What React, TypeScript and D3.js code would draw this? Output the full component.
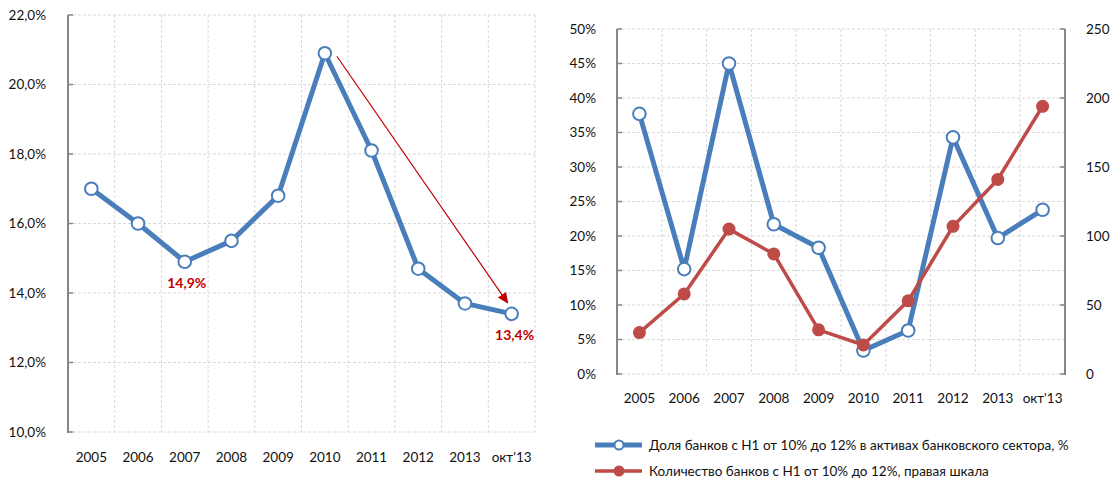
import React from "react";
import * as d3 from "d3";

const categories = ["2005", "2006", "2007", "2008", "2009", "2010", "2011", "2012", "2013", "окт'13"];
const leftValues = [17.0, 16.0, 14.9, 15.5, 16.8, 20.9, 18.1, 14.7, 13.7, 13.4];
const leftTicks = [10, 12, 14, 16, 18, 20, 22];
const shareValues = [37.7, 15.2, 45.0, 21.7, 18.3, 3.4, 6.3, 34.3, 19.7, 23.8];
const countValues = [30, 58, 105, 87, 32, 21, 53, 107, 141, 194];
const pctTicks = [0, 5, 10, 15, 20, 25, 30, 35, 40, 45, 50];
const countTicks = [0, 50, 100, 150, 200, 250];
const legendLabels = [
  "Доля банков с Н1 от 10% до 12% в активах банковского сектора, %",
  "Количество банков с Н1 от 10% до 12%, правая шкала",
];
const annotations = [
  { idx: 2, text: "14,9%" },
  { idx: 9, text: "13,4%" },
];

const BLUE = "#4A7EBB";
const RED = "#BE4B48";
const DARKRED = "#C00000";
const AXIS = "#868686";
const GRID = "#D9D9D9";
const FONT = "Lato, 'Open Sans', sans-serif";
const TXT = "#111";
const FS = 13.5;

function LeftChart() {
  const x0 = 68, x1 = 535, yTop = 15, yBot = 432;
  const x = d3.scaleBand<string>().domain(categories).range([x0, x1]);
  const y = d3.scaleLinear().domain([10, 22]).range([yBot, yTop]);
  const cx = (c: string) => (x(c) as number) + x.bandwidth() / 2;
  const line = d3
    .line<number>()
    .x((_, i) => cx(categories[i]))
    .y((d) => y(d));
  const arrowStart = { x: cx(categories[5]) + 12, y: y(20.9) + 3 };
  const arrowEnd = { x: cx(categories[9]) - 4, y: y(13.4) - 11 };
  return (
    <g>
      <defs>
        <marker id="arrowhead" markerWidth="12" markerHeight="12" refX="10" refY="5" orient="auto" markerUnits="userSpaceOnUse">
          <path d="M0,0 L11,5 L0,10 Z" fill={DARKRED} />
        </marker>
      </defs>
      {leftTicks.map((t) => (
        <line key={"h" + t} x1={x0} x2={x1} y1={y(t)} y2={y(t)} stroke={GRID} strokeDasharray="3,2" />
      ))}
      {categories.map((c, i) =>
        i > 0 ? (
          <line key={"v" + c} x1={x(c)} x2={x(c)} y1={yTop} y2={yBot} stroke={GRID} strokeDasharray="3,2" />
        ) : null
      )}
      <line x1={x1} x2={x1} y1={yTop} y2={yBot} stroke={GRID} strokeDasharray="3,2" />
      <line x1={x0} x2={x0} y1={yTop} y2={yBot + 1} stroke={AXIS} strokeWidth={2} />
      {leftTicks.map((t) => (
        <line key={"t" + t} x1={x0} x2={x0 + 5} y1={y(t)} y2={y(t)} stroke={AXIS} strokeWidth={1.5} />
      ))}
      {leftTicks.map((t) => (
        <text key={"l" + t} x={46} y={y(t)} dy="0.35em" textAnchor="end" fontSize={FS} fontFamily={FONT} fill={TXT}>
          {d3.format(".1f")(t).replace(".", ",") + "%"}
        </text>
      ))}
      {categories.map((c) => (
        <text key={"c" + c} x={cx(c)} y={457} dy="0.35em" textAnchor="middle" fontSize={FS} fontFamily={FONT} fill={TXT}>
          {c}
        </text>
      ))}
      <path d={line(leftValues) || ""} fill="none" stroke={BLUE} strokeWidth={5} strokeLinejoin="round" />
      {leftValues.map((v, i) => (
        <circle key={"p" + i} cx={cx(categories[i])} cy={y(v)} r={6.3} fill="#fff" stroke={BLUE} strokeWidth={2} />
      ))}
      <line
        x1={arrowStart.x}
        y1={arrowStart.y}
        x2={arrowEnd.x}
        y2={arrowEnd.y}
        stroke={DARKRED}
        strokeWidth={1.2}
        markerEnd="url(#arrowhead)"
      />
      {annotations.map((a) => (
        <text
          key={"a" + a.idx}
          x={cx(categories[a.idx]) + (a.idx === 9 ? 3 : 2)}
          y={y(leftValues[a.idx]) + 21}
          dy="0.35em"
          textAnchor="middle"
          fontSize={14}
          fontWeight="bold"
          fontFamily={FONT}
          fill={DARKRED}
        >
          {a.text}
        </text>
      ))}
    </g>
  );
}

function RightChart() {
  const x0 = 617, x1 = 1065, yTop = 29, yBot = 374;
  const x = d3.scaleBand<string>().domain(categories).range([x0, x1]);
  const yL = d3.scaleLinear().domain([0, 50]).range([yBot, yTop]);
  const yR = d3.scaleLinear().domain([0, 250]).range([yBot, yTop]);
  const cx = (c: string) => (x(c) as number) + x.bandwidth() / 2;
  const lineL = d3
    .line<number>()
    .x((_, i) => cx(categories[i]))
    .y((d) => yL(d));
  const lineR = d3
    .line<number>()
    .x((_, i) => cx(categories[i]))
    .y((d) => yR(d));
  return (
    <g>
      {pctTicks.map((t) => (
        <line key={"h" + t} x1={x0} x2={x1} y1={yL(t)} y2={yL(t)} stroke={GRID} strokeDasharray="3,2" />
      ))}
      {categories.map((c, i) =>
        i > 0 ? (
          <line key={"v" + c} x1={x(c)} x2={x(c)} y1={yTop} y2={yBot} stroke={GRID} strokeDasharray="3,2" />
        ) : null
      )}
      <line x1={x0} x2={x0} y1={yTop} y2={yBot + 1} stroke={AXIS} strokeWidth={2} />
      <line x1={x1} x2={x1} y1={yTop} y2={yBot + 1} stroke={AXIS} strokeWidth={2} />
      {pctTicks.map((t) => (
        <line key={"t" + t} x1={x0} x2={x0 + 5} y1={yL(t)} y2={yL(t)} stroke={AXIS} strokeWidth={1.5} />
      ))}
      {countTicks.map((t) => (
        <line key={"tr" + t} x1={x1 - 5} x2={x1} y1={yR(t)} y2={yR(t)} stroke={AXIS} strokeWidth={1.5} />
      ))}
      {pctTicks.map((t) => (
        <text key={"l" + t} x={596} y={yL(t)} dy="0.35em" textAnchor="end" fontSize={FS} fontFamily={FONT} fill={TXT}>
          {t + "%"}
        </text>
      ))}
      {countTicks.map((t) => (
        <text key={"r" + t} x={1086} y={yR(t)} dy="0.35em" textAnchor="start" fontSize={FS} fontFamily={FONT} fill={TXT}>
          {t}
        </text>
      ))}
      {categories.map((c) => (
        <text key={"c" + c} x={cx(c)} y={398} dy="0.35em" textAnchor="middle" fontSize={FS} fontFamily={FONT} fill={TXT}>
          {c}
        </text>
      ))}
      <path d={lineL(shareValues) || ""} fill="none" stroke={BLUE} strokeWidth={5} strokeLinejoin="round" />
      {shareValues.map((v, i) => (
        <circle key={"p" + i} cx={cx(categories[i])} cy={yL(v)} r={6.3} fill="#fff" stroke={BLUE} strokeWidth={2} />
      ))}
      <path d={lineR(countValues) || ""} fill="none" stroke={RED} strokeWidth={3.5} strokeLinejoin="round" />
      {countValues.map((v, i) => (
        <circle key={"q" + i} cx={cx(categories[i])} cy={yR(v)} r={6.5} fill={RED} />
      ))}
      {legendLabels.map((lbl, i) => {
        const ly = 445 + i * 26;
        const color = i === 0 ? BLUE : RED;
        return (
          <g key={"lg" + i}>
            <line x1={595} x2={642} y1={ly} y2={ly} stroke={color} strokeWidth={i === 0 ? 5 : 3.5} />
            {i === 0 ? (
              <circle cx={619} cy={ly} r={4.5} fill="#fff" stroke={BLUE} strokeWidth={2} />
            ) : (
              <circle cx={619} cy={ly} r={5.5} fill={RED} />
            )}
            <text x={649} y={ly} dy="0.35em" fontSize={FS} fontFamily={FONT} fill={TXT}>
              {lbl}
            </text>
          </g>
        );
      })}
    </g>
  );
}

export default function App() {
  return (
    <svg
      width={1117}
      height={479}
      style={{ position: "absolute", left: 0, top: 0, background: "#fff" }}
    >
      <rect width={1117} height={479} fill="#fff" />
      <LeftChart />
      <RightChart />
    </svg>
  );
}
